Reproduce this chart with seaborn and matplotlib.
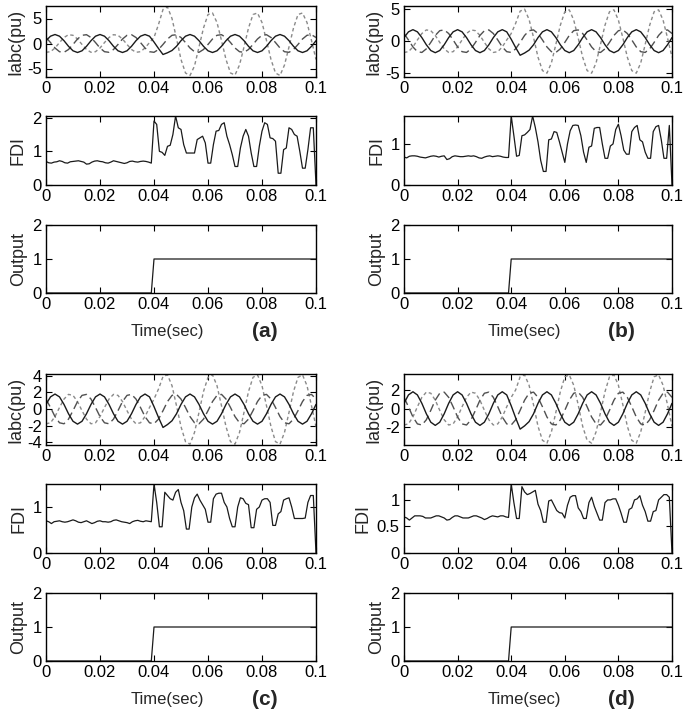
import numpy as np
import seaborn as sns
import matplotlib
matplotlib.use("Agg")
import matplotlib.pyplot as plt

# time bases (s)
current_time = np.linspace(0, 0.1, 61)
fdi_time = np.linspace(0, 0.1, 101)

# healthy phase currents (pu), same in all four cases
ia_solid = [0.56, 1.46, 1.80, 1.46, 0.56, -0.56, -1.46, -1.80, -1.46, -0.56,
            0.56, 1.46, 1.80, 1.46, 0.56, -0.56, -1.46, -1.80, -1.46, -0.56,
            0.56, 1.46, 1.80, 1.46, 0.30, -1.00, -2.20, -1.85, -1.40, -0.56,
            0.56, 1.46, 1.80, 1.46, 0.56, -0.56, -1.46, -1.80, -1.46, -0.56,
            0.56, 1.46, 1.80, 1.46, 0.56, -0.56, -1.46, -1.80, -1.46, -0.56,
            0.56, 1.46, 1.80, 1.46, 0.56, -0.56, -1.46, -1.80, -1.46, -0.56,
            0.56]
ib_dashed = [1.20, 0.19, -0.90, -1.64, -1.76, -1.20, -0.19, 0.90, 1.64, 1.76,
             1.20, 0.19, -0.90, -1.64, -1.76, -1.20, -0.19, 0.90, 1.64, 1.76,
             1.20, 0.19, -0.90, -1.64, -1.76, -1.20, -0.19, 0.90, 1.64, 1.76,
             1.20, 0.19, -0.90, -1.64, -1.76, -1.20, -0.19, 0.90, 1.64, 1.76,
             1.20, 0.19, -0.90, -1.64, -1.76, -1.20, -0.19, 0.90, 1.64, 1.76,
             1.20, 0.19, -0.90, -1.64, -1.76, -1.20, -0.19, 0.90, 1.64, 1.76,
             1.20]
# faulted phase, before the fault (t < 0.04)
ic_prefault = [-1.76, -1.64, -0.90, 0.19, 1.20, 1.76, 1.64, 0.90, -0.19, -1.20,
               -1.76, -1.64, -0.90, 0.19, 1.20, 1.76, 1.64, 0.90, -0.19, -1.20,
               -1.76, -1.64, -0.90, 0.19]
# faulted phase from t = 0.04 on, one list per case
ic_fault_a = [1.2, 3.8, 6.8, 7.3, 5.0, 1.0, -3.2, -5.9, -6.4, -4.5,
              -0.7, 3.1, 5.8, 6.1, 4.2, 0.6, -3.2, -5.9, -6.3, -4.3,
              -0.7, 3.1, 5.8, 6.1, 4.2, 0.6, -3.2, -5.9, -6.4, -4.3,
              -0.7, 3.1, 5.8, 6.1, 4.2, 0.6, -3.2]
ic_fault_b = [1.2, 2.8, 4.7, 5.0, 3.4, 0.6, -2.5, -4.6, -5.0, -3.4,
              -0.5, 2.5, 4.6, 4.9, 3.3, 0.5, -2.5, -4.6, -5.0, -3.4,
              -0.5, 2.5, 4.6, 4.9, 3.3, 0.5, -2.5, -4.6, -5.0, -3.4,
              -0.5, 2.5, 4.6, 4.9, 3.3, 0.5, -2.5]
ic_fault_c = [1.2, 2.4, 3.9, 4.1, 2.8, 0.4, -2.1, -3.9, -4.2, -2.8,
              -0.4, 2.1, 3.8, 4.1, 2.8, 0.4, -2.1, -3.9, -4.2, -2.8,
              -0.4, 2.1, 3.8, 4.1, 2.8, 0.4, -2.1, -3.9, -4.2, -2.8,
              -0.4, 2.1, 3.8, 4.1, 2.8, 0.4, -2.1]
ic_fault_d = [1.2, 2.0, 3.4, 3.6, 2.5, 0.4, -1.9, -3.4, -3.7, -2.5,
              -0.4, 1.8, 3.4, 3.6, 2.5, 0.4, -1.9, -3.4, -3.7, -2.5,
              -0.4, 1.8, 3.4, 3.6, 2.5, 0.4, -1.9, -3.4, -3.7, -2.5,
              -0.4, 1.8, 3.4, 3.6, 2.5, 0.4, -1.9]

# fault detection index, sampled every 1 ms
fdi_a = [0.70, 0.66, 0.65, 0.68, 0.69, 0.72, 0.70, 0.66, 0.65, 0.69,
         0.70, 0.71, 0.72, 0.70, 0.68, 0.62, 0.63, 0.68, 0.71, 0.72,
         0.70, 0.69, 0.66, 0.65, 0.68, 0.72, 0.70, 0.68, 0.66, 0.64,
         0.66, 0.70, 0.71, 0.69, 0.68, 0.70, 0.71, 0.70, 0.68, 0.65,
         1.90, 1.80, 1.00, 0.97, 0.88, 1.15, 1.18, 1.50, 2.05, 1.70,
         1.65, 1.20, 0.95, 0.95, 0.95, 0.95, 1.35, 1.40, 1.45, 1.25,
         0.65, 0.65, 1.20, 1.60, 1.62, 1.80, 1.85, 1.45, 1.20, 0.90,
         0.55, 0.55, 1.10, 1.45, 1.65, 1.45, 0.95, 0.55, 0.55, 1.15,
         1.60, 1.85, 1.80, 1.40, 1.38, 1.30, 0.35, 0.35, 1.05, 1.10,
         1.70, 1.65, 1.50, 1.45, 1.00, 0.50, 0.50, 1.05, 1.70, 1.70,
         0.00]
fdi_b = [0.68, 0.66, 0.70, 0.71, 0.71, 0.70, 0.68, 0.67, 0.66, 0.68,
         0.70, 0.71, 0.70, 0.68, 0.70, 0.71, 0.62, 0.64, 0.69, 0.71,
         0.70, 0.69, 0.69, 0.70, 0.71, 0.70, 0.71, 0.69, 0.66, 0.65,
         0.68, 0.70, 0.71, 0.69, 0.70, 0.71, 0.70, 0.68, 0.67, 0.67,
         1.68, 1.20, 0.70, 0.72, 1.20, 1.22, 1.28, 1.35, 1.68, 1.40,
         1.05, 0.60, 0.33, 0.33, 1.10, 1.12, 1.30, 1.28, 1.05, 0.80,
         0.55, 1.00, 1.32, 1.45, 1.46, 1.45, 1.20, 0.80, 0.55, 0.92,
         0.95, 1.38, 1.40, 1.40, 1.00, 0.65, 0.65, 0.95, 1.00, 1.35,
         1.48, 1.20, 0.85, 0.75, 0.75, 1.30, 1.40, 1.45, 1.10, 1.05,
         0.80, 0.65, 0.65, 1.30, 1.42, 1.45, 1.10, 0.65, 0.65, 1.45,
         0.00]
fdi_c = [0.70, 0.68, 0.64, 0.68, 0.69, 0.70, 0.68, 0.67, 0.68, 0.70,
         0.72, 0.70, 0.67, 0.66, 0.68, 0.70, 0.67, 0.64, 0.66, 0.69,
         0.70, 0.68, 0.68, 0.67, 0.68, 0.71, 0.72, 0.70, 0.68, 0.67,
         0.66, 0.64, 0.68, 0.70, 0.71, 0.69, 0.68, 0.70, 0.69, 0.68,
         1.50, 1.10, 0.57, 0.57, 1.32, 1.25, 1.18, 1.15, 1.32, 1.38,
         1.10, 0.92, 0.52, 0.52, 1.00, 1.20, 1.28, 1.15, 1.05, 0.95,
         0.67, 0.67, 1.18, 1.28, 1.30, 1.30, 1.10, 1.00, 0.75, 0.57,
         0.57, 1.00, 1.20, 1.18, 1.08, 1.05, 0.55, 0.55, 0.95, 1.00,
         1.15, 1.18, 1.18, 1.10, 0.60, 0.60, 0.85, 0.90, 1.15, 1.18,
         1.20, 1.00, 0.75, 0.75, 0.75, 0.75, 0.76, 1.10, 1.25, 1.25,
         0.00]
fdi_d = [0.68, 0.66, 0.62, 0.66, 0.70, 0.70, 0.70, 0.69, 0.66, 0.66,
         0.66, 0.68, 0.70, 0.70, 0.68, 0.66, 0.62, 0.63, 0.67, 0.70,
         0.70, 0.68, 0.66, 0.66, 0.66, 0.68, 0.70, 0.70, 0.68, 0.66,
         0.63, 0.65, 0.68, 0.70, 0.69, 0.68, 0.70, 0.70, 0.68, 0.67,
         1.30, 0.95, 0.65, 0.65, 1.25, 1.15, 1.10, 1.12, 1.15, 1.18,
         0.92, 0.80, 0.58, 0.58, 0.98, 1.00, 0.90, 0.80, 0.76, 0.75,
         0.66, 0.90, 1.05, 1.08, 1.08, 0.85, 0.78, 0.65, 0.65, 0.95,
         1.05, 0.88, 0.75, 0.62, 0.62, 0.95, 1.00, 1.00, 1.02, 1.02,
         0.90, 0.75, 0.58, 0.58, 0.82, 0.85, 1.00, 1.02, 1.08, 0.90,
         0.78, 0.60, 0.60, 0.78, 0.80, 1.00, 1.05, 1.10, 1.10, 1.05,
         0.00]

# relay trip output: 0 before 0.04 s, 1 after
trip_output = [0] * 40 + [1] * 61

x_ticks = [0, 0.02, 0.04, 0.06, 0.08, 0.1]
x_ticklabels = ["0", "0.02", "0.04", "0.06", "0.08", "0.1"]

sns.set_theme(style="ticks")
plt.rcParams["font.family"] = ["Liberation Sans", "DejaVu Sans"]
plt.rcParams["axes.unicode_minus"] = False
plt.rcParams["axes.edgecolor"] = "black"
plt.rcParams["axes.linewidth"] = 1.0

W, H = 685, 710
fig = plt.figure(figsize=(W / 100, H / 100), dpi=100)


def make_ax(left_px, width_px, top_px, bottom_px):
    ax = fig.add_axes([left_px / W, 1 - bottom_px / H,
                       width_px / W, (bottom_px - top_px) / H])
    ax.set_xlim(0, 0.1)
    ax.set_xticks(x_ticks)
    ax.set_xticklabels(x_ticklabels)
    ax.tick_params(direction="in", top=True, right=True, length=4,
                   width=0.8, labelsize=12, colors="black", pad=3)
    ax.set_facecolor("white")
    return ax


def draw_case(left_px, width_px, top_px, ic_fault, fdi, i_lim, i_ticks,
              f_lim, f_ticks, f_labels, tag):
    # currents
    ax1 = make_ax(left_px, width_px, top_px, top_px + 71)
    ic = ic_prefault + ic_fault
    sns.lineplot(x=current_time, y=ic, ax=ax1, color="#8a8a8a",
                 linewidth=1.0, linestyle=(0, (2.5, 2)), estimator=None)
    sns.lineplot(x=current_time, y=ib_dashed, ax=ax1, color="#505050",
                 linewidth=1.0, linestyle=(0, (6, 3)), estimator=None)
    sns.lineplot(x=current_time, y=ia_solid, ax=ax1, color="#1a1a1a",
                 linewidth=1.0, estimator=None)
    ax1.set_ylim(*i_lim)
    ax1.set_yticks(i_ticks)
    ax1.set_yticklabels([str(v) for v in i_ticks])
    ax1.set_ylabel("Iabc(pu)", fontsize=13, labelpad=2)

    # fault detection index
    ax2 = make_ax(left_px, width_px, top_px + 110, top_px + 179)
    sns.lineplot(x=fdi_time, y=fdi, ax=ax2, color="#1a1a1a",
                 linewidth=0.9, estimator=None)
    ax2.set_ylim(*f_lim)
    ax2.set_yticks(f_ticks)
    ax2.set_yticklabels(f_labels)
    ax2.set_ylabel("FDI", fontsize=13, labelpad=4)

    # trip output
    ax3 = make_ax(left_px, width_px, top_px + 219, top_px + 287)
    sns.lineplot(x=fdi_time, y=trip_output, ax=ax3, color="#1a1a1a",
                 linewidth=0.9, estimator=None)
    ax3.set_ylim(0, 2)
    ax3.set_yticks([0, 1, 2])
    ax3.set_yticklabels(["0", "1", "2"])
    ax3.set_ylabel("Output", fontsize=13, labelpad=4)
    ax3.text(0.45, -0.56, "Time(sec)", transform=ax3.transAxes,
             ha="center", va="center", fontsize=12)
    ax3.text(0.81, -0.56, tag, transform=ax3.transAxes, ha="center",
             va="center", fontsize=15, fontweight="bold")


draw_case(46, 270, 6, ic_fault_a, fdi_a, (-6.7, 7.5), [-5, 0, 5],
          (0, 2.05), [0, 1, 2], ["0", "1", "2"], "(a)")
draw_case(404, 268, 6, ic_fault_b, fdi_b, (-5.6, 5.5), [-5, 0, 5],
          (0, 1.68), [0, 1], ["0", "1"], "(b)")
draw_case(46, 270, 374, ic_fault_c, fdi_c, (-4.3, 4.2), [-4, -2, 0, 2, 4],
          (0, 1.5), [0, 1], ["0", "1"], "(c)")
draw_case(404, 268, 374, ic_fault_d, fdi_d, (-3.9, 3.7), [-2, 0, 2],
          (0, 1.3), [0, 0.5, 1], ["0", "0.5", "1"], "(d)")

fig.savefig("out.png", dpi=100, facecolor="white")
